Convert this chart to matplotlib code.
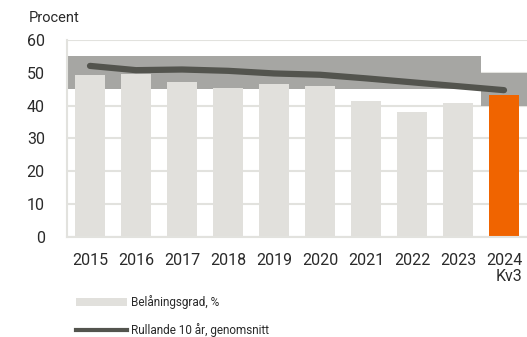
import matplotlib.pyplot as plt
from matplotlib.lines import Line2D
from matplotlib.patches import Patch

plt.rcParams['font.family'] = ['Roboto', 'DejaVu Sans']

# Belåningsgrad per år (procent), 2024 avser kvartal 3
years = ['2015', '2016', '2017', '2018', '2019', '2020', '2021', '2022', '2023', '2024\nKv3']
belaningsgrad = [49.3, 49.6, 47.3, 45.5, 46.7, 45.9, 41.3, 38.1, 40.9, 43.2]
rullande_snitt = [52.1, 50.8, 51.0, 50.6, 49.8, 49.4, 48.3, 47.1, 45.9, 44.7]
# Målintervall (nedre, övre)
intervall_lo = [45, 45, 45, 45, 45, 45, 45, 45, 45, 40]
intervall_hi = [55, 55, 55, 55, 55, 55, 55, 55, 55, 50]
yticks = [0, 10, 20, 30, 40, 50, 60]

grid_col = '#e2e2de'
bar_col = '#e1e0dc'
band_col = '#a6a6a3'
line_col = '#53544e'
orange = '#f06400'
text_col = '#2a2a2a'

fig = plt.figure(figsize=(5.27, 3.37), dpi=100)
ax = fig.add_axes([67 / 527, 1 - 236.7 / 337, 460 / 527, 196.7 / 337])

x = list(range(len(years)))

# intervallet som grått band
ax.bar(x, [h - l for h, l in zip(intervall_hi, intervall_lo)], bottom=intervall_lo,
       width=1.0, color=band_col, linewidth=0, zorder=1)

for y in yticks:
    ax.axhline(y, color=grid_col, linewidth=1.5, zorder=0.5)

colors = [bar_col] * (len(years) - 1) + [orange]
ax.bar(x, belaningsgrad, width=0.67, color=colors, linewidth=0, zorder=2)

ax.plot(x, rullande_snitt, color=line_col, linewidth=4.5, solid_capstyle='round',
        solid_joinstyle='round', zorder=3)

ax.set_xlim(-0.5, len(years) - 0.5)
ax.set_ylim(0, 60)
ax.set_yticks(yticks)
ax.set_xticks(x)
ax.set_xticklabels(years, fontsize=11.5, color=text_col, multialignment='right',
                   linespacing=1.15)
ax.tick_params(axis='y', labelsize=11.5, labelcolor=text_col, length=0, pad=16)
ax.tick_params(axis='x', length=0, pad=11.5)

for s in ['top', 'right']:
    ax.spines[s].set_visible(False)
ax.spines['left'].set_color(grid_col)
ax.spines['left'].set_linewidth(1.5)
ax.spines['bottom'].set_color(grid_col)
ax.spines['bottom'].set_linewidth(1.5)

fig.text(29 / 527, 1 - 18 / 337, 'Procent', fontsize=10.5, color=text_col, va='center', ha='left')

handles = [Patch(facecolor=bar_col, edgecolor='none'),
           Line2D([], [], color=line_col, linewidth=3)]
labels = ['Belåningsgrad, %', 'Rullande 10 år, genomsnitt']
fig.legend(handles, labels, loc='upper left', bbox_to_anchor=(76 / 527, 1 - 295 / 337),
           frameon=False, fontsize=8.5, handlelength=4.3, handleheight=0.6,
           handletextpad=0.4, labelspacing=1.15, borderaxespad=0, borderpad=0,
           labelcolor=text_col)

fig.savefig('out.png', dpi=100)
